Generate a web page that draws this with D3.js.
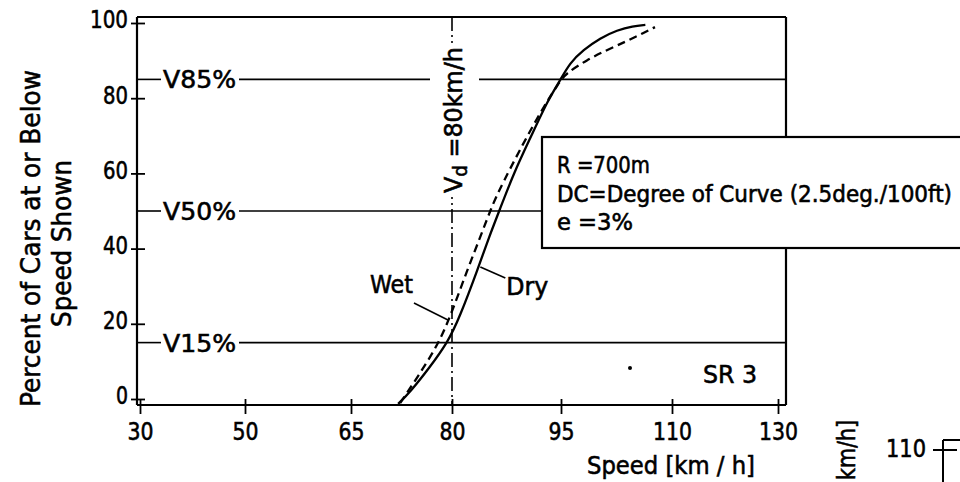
<!DOCTYPE html>
<html><head><meta charset="utf-8">
<script src="https://cdn.jsdelivr.net/npm/d3@7"></script>
<style>
html,body{margin:0;padding:0;background:#fff;}
svg{display:block;}
text{font-family:"DejaVu Sans Condensed","DejaVu Sans",sans-serif;font-stretch:condensed;fill:#000;stroke:#000;stroke-width:0.55px;}
</style></head><body>
<svg id="c" width="960" height="482"></svg>
<script>
// ---- data ----
const xTicks = [30, 50, 65, 80, 95, 110, 130];
const yTicks = [0, 20, 40, 60, 80, 100];
const drySpeed = [72.0,73.8,76.6,79.4,81.0,83.6,85.1,86.5,88.5,90.9,93.2,94.9,96.2,98.0,100.3,102.6,104.7,106.4];
const dryPct   = [-1.3,1.9,8.2,15.2,21.5,34.8,43.1,50.0,60.1,69.9,79.5,84.8,89.4,92.8,96.0,98.1,99.2,99.5];
const wetSpeed = [72.3,74.8,78.1,80.1,82.1,83.9,85.4,86.6,91.4,94.9,95.8,98.5,101.2,103.9,106.1,107.7];
const wetPct   = [-1.1,5.6,14.9,23.7,34.3,43.1,50.8,56.1,73.9,84.8,86.7,90.2,92.8,95.2,97.3,98.9];
const refLevels = [85, 50, 15];
const refLabels = ["V85%", "V50%", "V15%"];
const designSpeed = 80;
const boxLines = ["R =700m", "DC=Degree of Curve (2.5deg./100ft)", "e =3%"];

function fit(sel, len){ return sel.attr('textLength', len).attr('lengthAdjust','spacingAndGlyphs'); }

// ---- scales ----
const svg = d3.select('#c');
const x = d3.scaleLinear().domain(xTicks).range([140,245,351,452,561,672,778]);
const y = d3.scaleLinear().domain([0,100]).range([399,23]);
const L = 137, R = 786, T = y(100) - 6, B = y(0) + 6;

// ---- reference lines with labels ----
refLevels.forEach((v,i)=>{
  const t = fit(svg.append('text').attr('x',163).attr('y',y(v)).attr('dy','0.36em')
    .attr('font-size',25).text(refLabels[i]), 73);
  const bb = t.node().getBBox();
  svg.append('line').attr('x1',L).attr('x2',bb.x-2).attr('y1',y(v)).attr('y2',y(v))
    .attr('stroke','#000').attr('stroke-width',1.6);
  svg.append('line').attr('x1',bb.x+bb.width+3).attr('x2',R).attr('y1',y(v)).attr('y2',y(v))
    .attr('stroke','#000').attr('stroke-width',1.6);
});

// ---- design speed line ----
svg.append('line').attr('x1',x(designSpeed)).attr('x2',x(designSpeed)).attr('y1',T).attr('y2',B)
  .attr('stroke','#000').attr('stroke-width',1.6).attr('stroke-dasharray','14,4,2,4');
const vdG = svg.append('g').attr('transform',`translate(${x(designSpeed)+10},193) rotate(-90)`);
const vdT = vdG.append('text').attr('font-size',25);
vdT.append('tspan').text('V');
vdT.append('tspan').attr('font-size',19).attr('dy',5).text('d');
vdT.append('tspan').attr('dy',-5).text(' =' + designSpeed + 'km/h');
fit(vdT, 146);
const vb = vdT.node().getBBox();
vdG.insert('rect','text').attr('x',vb.x-4).attr('y',vb.y-9).attr('width',vb.width+8).attr('height',vb.height+17)
  .attr('fill','#fff').attr('stroke','none');

// ---- frame ----
const frame = [[L,T,R,T],[R,T,R,B],[L,B,R,B],[L,T,L,B]];
frame.forEach(f=>svg.append('line').attr('x1',f[0]).attr('y1',f[1]).attr('x2',f[2]).attr('y2',f[3])
  .attr('stroke','#000').attr('stroke-width',2.2));

// ---- axes ----
const ya = svg.append('g').attr('transform',`translate(${L},0)`)
  .call(d3.axisLeft(y).tickValues(yTicks).tickSize(0).tickPadding(9))
  .attr('font-size',24);
ya.select('.domain').remove();
ya.selectAll('.tick line').attr('x1',-6).attr('x2',8).attr('stroke','#000').attr('stroke-width',1.8);
ya.selectAll('.tick text').attr('dy','0.2em').each(function(d){ fit(d3.select(this), 13*String(d).length - 1); });

const xa = svg.append('g').attr('transform',`translate(0,${B})`)
  .call(d3.axisBottom(x).tickValues(xTicks).tickSize(0).tickPadding(18))
  .attr('font-size',24);
xa.select('.domain').remove();
xa.selectAll('.tick line').attr('y1',-6).attr('y2',9).attr('stroke','#000').attr('stroke-width',1.8);
xa.selectAll('.tick text').each(function(d){ fit(d3.select(this), 13*String(d).length); });

// ---- curves ----
const line = d3.line().x(d=>x(d[0])).y(d=>y(d[1])).curve(d3.curveBasis);
svg.append('path').datum(d3.zip(drySpeed,dryPct)).attr('d',line)
  .attr('fill','none').attr('stroke','#000').attr('stroke-width',2.3);
svg.append('path').datum(d3.zip(wetSpeed,wetPct)).attr('d',line)
  .attr('fill','none').attr('stroke','#000').attr('stroke-width',2.3).attr('stroke-dasharray','8,5');

// ---- labels Wet / Dry ----
const wetA = [x(79.4), y(21)];
svg.append('line').attr('x1',wetA[0]-34).attr('y1',wetA[1]-17).attr('x2',wetA[0]).attr('y2',wetA[1])
  .attr('stroke','#000').attr('stroke-width',1.6);
fit(svg.append('text').attr('x',wetA[0]-78).attr('y',wetA[1]-27).attr('font-size',25).text('Wet'), 43);
const dryA = [x(83.9), y(35.1)];
svg.append('line').attr('x1',dryA[0]).attr('y1',dryA[1]).attr('x2',dryA[0]+25).attr('y2',dryA[1]+11)
  .attr('stroke','#000').attr('stroke-width',1.6);
fit(svg.append('text').attr('x',dryA[0]+26).attr('y',dryA[1]+28).attr('font-size',25).text('Dry'), 42);

// ---- info box ----
svg.append('rect').attr('x',542).attr('y',137).attr('width',440).attr('height',111)
  .attr('fill','#fff').attr('stroke','#000').attr('stroke-width',2.2);
const boxW = [93, 395, 76];
boxLines.forEach((s,i)=>fit(svg.append('text').attr('x',557).attr('y',173+i*28.5).attr('font-size',23).text(s), boxW[i]));

// ---- SR 3 + dot ----
fit(svg.append('text').attr('x',703).attr('y',383).attr('font-size',25).text('SR 3'), 54);
svg.append('circle').attr('cx',630).attr('cy',368).attr('r',2).attr('fill','#000');

// ---- axis titles ----
fit(svg.append('text').attr('transform','translate(40,407) rotate(-90)')
  .attr('font-size',26).text('Percent of Cars at or Below'), 337);
fit(svg.append('text').attr('transform','translate(71,327) rotate(-90)')
  .attr('font-size',26).text('Speed Shown'), 167);
fit(svg.append('text').attr('x',587).attr('y',474).attr('font-size',25)
  .text('Speed [km / h]'), 168);

// ---- fragment of next chart ----
fit(svg.append('text').attr('transform','translate(855,480) rotate(-90)')
  .attr('font-size',25).text('km/h]'), 60);
fit(svg.append('text').attr('x',886).attr('y',457).attr('font-size',24).text('110'), 40);
svg.append('line').attr('x1',943).attr('x2',943).attr('y1',440).attr('y2',482).attr('stroke','#000').attr('stroke-width',2);
svg.append('line').attr('x1',943).attr('x2',960).attr('y1',440).attr('y2',440).attr('stroke','#000').attr('stroke-width',2);
svg.append('line').attr('x1',933).attr('x2',957).attr('y1',450).attr('y2',450).attr('stroke','#000').attr('stroke-width',2);
</script>
</body></html>
